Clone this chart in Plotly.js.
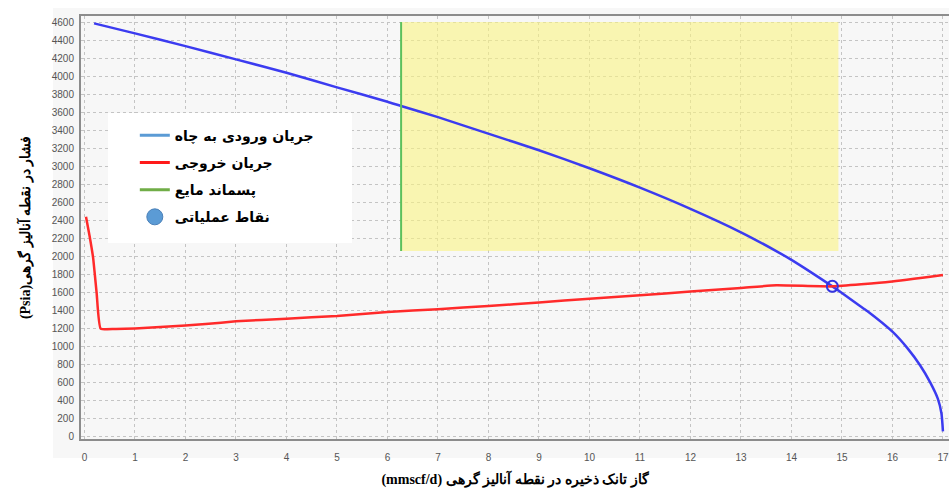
<!DOCTYPE html>
<html>
<head>
<meta charset="utf-8">
<script src="https://cdn.plot.ly/plotly-3.0.1.min.js"></script>
<style>html,body{margin:0;padding:0;background:#fff;}#chart{width:949px;height:489px;}</style>
</head>
<body>
<div id="chart"></div>
<script>
// Inflow (IPR) curve
const inflowX = [0.19, 1, 2, 3, 4, 5, 6, 6.27, 7, 7.98, 9, 10, 11, 12, 13, 13.69, 14, 14.81, 15, 15.33, 15.5, 16, 16.3, 16.55, 16.75, 16.9, 16.97, 17.0];
const inflowY = [4585, 4474, 4333, 4186, 4037, 3875, 3716, 3668, 3545, 3365, 3178, 2978, 2763, 2528, 2268, 2062, 1962, 1668, 1595, 1462, 1395, 1165, 980, 790, 600, 420, 260, 60];
// Outflow (VLP) curve
const outflowX = [0.03, 0.1, 0.17, 0.24, 0.32, 0.6, 1, 2, 2.4, 3, 4, 5, 6, 7, 8, 9, 10, 11, 12, 13, 13.7, 14.81, 15.95, 17.0];
const outflowY = [2440, 2230, 1990, 1600, 1200, 1195, 1200, 1235, 1250, 1280, 1310, 1340, 1385, 1415, 1450, 1490, 1530, 1570, 1610, 1650, 1680, 1668, 1718, 1793];
// Liquid loading boundary
const liquidX = [6.27, 6.27];
const liquidY = [2060, 4600];
// Shaded zone bounds
const zoneX = [6.27, 14.93];
const zoneY = [2060, 4600];
// Operating point
const opX = [14.81];
const opY = [1668];
// Axis ticks
const xTicks = [0,1,2,3,4,5,6,7,8,9,10,11,12,13,14,15,16,17];
const yTicks = [0,200,400,600,800,1000,1200,1400,1600,1800,2000,2200,2400,2600,2800,3000,3200,3400,3600,3800,4000,4200,4400,4600];
// Labels
const legendNames = ['جریان ورودی به چاه', 'جریان خروجی', 'پسماند مایع', 'نقاط عملیاتی'];
const xTitle = '(mmscf/d) گاز تانک ذخیره در نقطه آنالیز گرهی';
const yTitle = '(Psia)فشار در نقطه آنالیز گرهی';

const traces = [
  {x: [zoneX[0], zoneX[1], zoneX[1], zoneX[0], zoneX[0]], y: [zoneY[0], zoneY[0], zoneY[1], zoneY[1], zoneY[0]],
   mode: 'lines', fill: 'toself', fillcolor: 'rgba(250,244,130,0.6)', line: {width: 0, color: 'rgba(0,0,0,0)'},
   showlegend: false, hoverinfo: 'skip'},
  {x: inflowX, y: inflowY, mode: 'lines', line: {color: '#3b3bf0', width: 2.5, shape: 'spline', smoothing: 0.6}, showlegend: false},
  {x: outflowX, y: outflowY, mode: 'lines', line: {color: '#ff2a2a', width: 2.5, shape: 'spline', smoothing: 0.4}, showlegend: false},
  {x: liquidX, y: liquidY, mode: 'lines', line: {color: '#5cc05c', width: 2}, showlegend: false},
  {x: opX, y: opY, mode: 'markers', marker: {symbol: 'circle-open', size: 11, color: '#3434e0', line: {width: 2, color: '#3434e0'}}, showlegend: false},
  // legend entries
  {x: [null], y: [null], mode: 'lines', name: legendNames[0], line: {color: '#5b9bd5', width: 3}, legendgroup: 'a'},
  {x: [null], y: [null], mode: 'lines', name: legendNames[1], line: {color: '#ff1a1a', width: 3}, legendgroup: 'b'},
  {x: [null], y: [null], mode: 'lines', name: legendNames[2], line: {color: '#70ad47', width: 3}, legendgroup: 'c'},
  {x: [null], y: [null], mode: 'markers', name: legendNames[3], marker: {color: '#5b9bd5', size: 16, line: {color: '#4a80b8', width: 1}}, legendgroup: 'd'}
];

const tickFont = {family: 'Liberation Sans, Arial, sans-serif', size: 10, color: '#555'};
const layout = {
  width: 949, height: 489,
  margin: {l: 81, r: 0, t: 16, b: 50},
  paper_bgcolor: '#ffffff',
  plot_bgcolor: '#f7f7f7',
  showlegend: true,
  legend: {
    x: 0.062, y: 0.755, xanchor: 'left', yanchor: 'top',
    bgcolor: 'rgba(0,0,0,0)', borderwidth: 0,
    traceorder: 'grouped', tracegroupgap: 6,
    font: {family: 'DejaVu Sans, sans-serif', size: 14, color: '#000', weight: 'bold'}
  },
  xaxis: {
    range: [-0.069, 17.12], tickvals: xTicks, ticktext: xTicks.map(String),
    showgrid: true, gridcolor: '#c4c4c4', griddash: 'dot', gridwidth: 1,
    zeroline: false, showline: true, linecolor: '#8c8c8c', linewidth: 2, mirror: true,
    ticks: '', tickfont: tickFont, ticklabelstandoff: 8, ticklabeloverflow: 'allow',
    title: {text: '<b>' + xTitle + '</b>', font: {family: 'Liberation Serif, DejaVu Serif, serif', size: 14, color: '#000'}, standoff: 12}
  },
  yaxis: {
    range: [-25, 4667], tickvals: yTicks, ticktext: yTicks.map(String),
    showgrid: true, gridcolor: '#c4c4c4', griddash: 'dot', gridwidth: 1,
    zeroline: false, showline: true, linecolor: '#8c8c8c', linewidth: 2, mirror: true,
    ticks: '', tickfont: tickFont, ticklabelstandoff: 3,
    title: {text: '<b>' + yTitle + '</b>', font: {family: 'Liberation Serif, DejaVu Serif, serif', size: 14, color: '#000'}, standoff: 18}
  },
  shapes: [
    {type: 'rect', xref: 'paper', yref: 'paper', x0: -0.0323, x1: 1, y0: -0.045, y1: 1.019,
     fillcolor: '#f7f7f7', line: {width: 0}, layer: 'below'},
    {type: 'rect', xref: 'paper', yref: 'paper', x0: 0.0311, x1: 0.3122, y0: 0.4634, y1: 0.7707,
     fillcolor: '#ffffff', line: {width: 0}, layer: 'above'}
  ]
};

Plotly.newPlot('chart', traces, layout, {displayModeBar: false, staticPlot: true});
</script>
</body>
</html>
